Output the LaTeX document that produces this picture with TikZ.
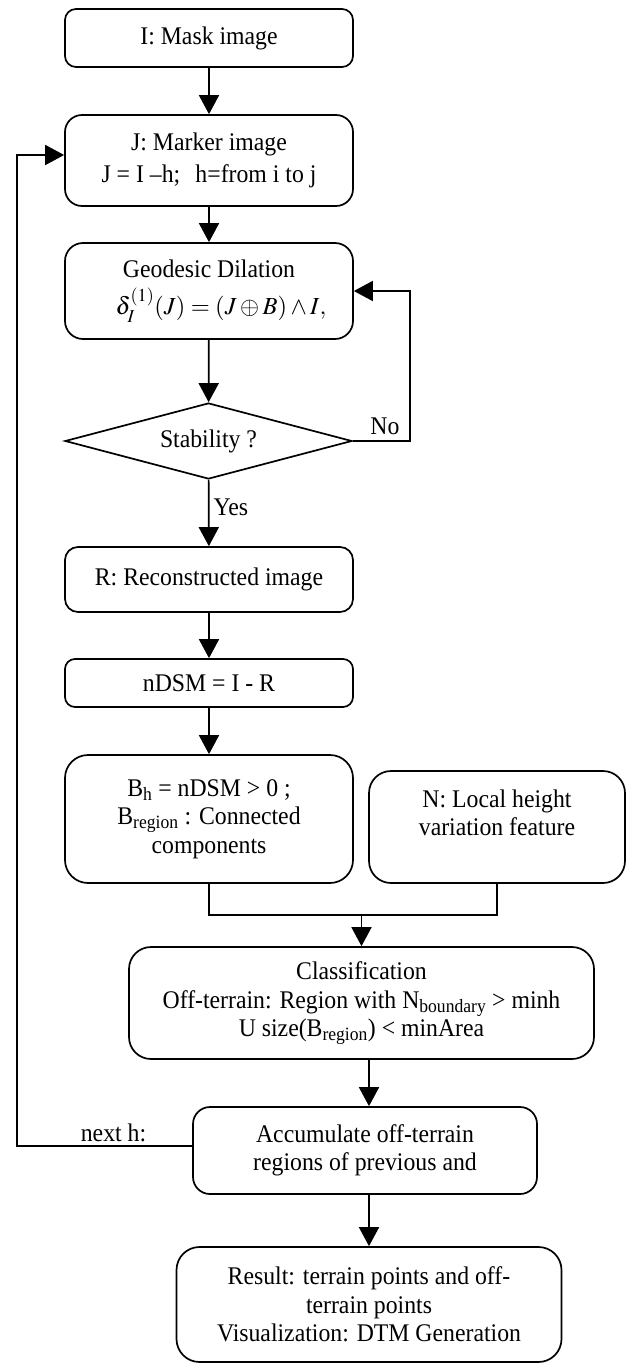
\documentclass[tikz,border=0pt]{standalone}
\usepackage{mathptmx}
\usepackage{fontspec}
\setmainfont{Liberation Serif}[FakeStretch=0.935]
\usetikzlibrary{arrows.meta,shapes.geometric}
\begin{document}
\begin{tikzpicture}[x=1pt,y=-1pt,
  every node/.style={font=\fontsize{25.4}{28.5}\selectfont, inner sep=0pt},
  box/.style={draw, line width=1.7pt, align=center},
  arr/.style={line width=1.7pt, -{Triangle[width=20pt,length=19pt]}},
  ln/.style={line width=1.7pt}]
\useasboundingbox (0,0) rectangle (628,1365);

\node[box, rounded corners=11pt, minimum width=288pt, minimum height=58pt] (I) at (209,38) {I: Mask image};
\node[box, rounded corners=17pt, minimum width=288pt, minimum height=91pt] (J) at (209,160.5)
  {J: Marker image\\[3.5pt] J = I –h;\hspace{0.6em}h=from i to j};
\node[box, rounded corners=18pt, minimum width=288pt, minimum height=96pt] (G) at (209,291)
  {Geodesic Dilation\\[9pt]\hspace{24pt}{\fontsize{24.5}{28.5}\selectfont$\delta_I^{(1)}(J)=(J\oplus B)\wedge I,$}};
\node[draw, line width=1.7pt, diamond, aspect=3.78, minimum width=287pt, minimum height=76pt] (D) at (208.5,441) {Stability ?};
\node[box, rounded corners=13pt, minimum width=288pt, minimum height=65pt] (R) at (209,579.5) {R: Reconstructed image};
\node[box, rounded corners=10pt, minimum width=288pt, minimum height=48pt] (S) at (209,683) {nDSM = I - R};
\node[box, rounded corners=23pt, minimum width=288pt, minimum height=128pt] (B) at (209,819)
  {B\textsubscript{h} = nDSM > 0 ;\\B\textsubscript{region} : Connected\\components};
\node[box, rounded corners=22pt, minimum width=256pt, minimum height=112pt] (N) at (497,827)
  {N: Local height\\variation feature\\\mbox{}};
\node[box, rounded corners=22pt, minimum width=465pt, minimum height=112pt] (C) at (361.5,1003)
  {Classification\\Off-terrain: Region with N\textsubscript{boundary} > minh\\U size(B\textsubscript{region}) < minArea};
\node[box, rounded corners=17pt, minimum width=344pt, minimum height=87pt] (A) at (365,1150.5)
  {Accumulate off-terrain\\regions of previous and};
\node[box, rounded corners=23pt, minimum width=385pt, minimum height=115pt] (Res) at (369,1304.5)
  {Result: terrain points and off-\\terrain points\\Visualization: DTM Generation};

\draw[arr] (I) -- (J);
\draw[arr] (J) -- (G);
\draw[arr] (G) -- (D);
\draw[arr] (D) -- node[pos=0.41, anchor=west, xshift=4pt] (yes) {Yes} (R);
\draw[arr] (R) -- (S);
\draw[arr] (S) -- (B);
\coordinate (m) at (C.north |- 0,915);
\draw[ln] (B.south) |- (m) -| (N.south);
\draw[arr] (m) -- (C.north);
\draw[arr] (C.south -| Res.north) -- (A.north -| Res.north);
\draw[arr] (A.south -| Res.north) -- (Res.north);
\coordinate (nr) at (D.east -| 410,0);
\draw[arr] (D.east) -- (nr) |- (G.east);
\node (no) at (385,426) {No};
\coordinate (lt) at (17,155);
\draw[arr] ([yshift=4.5pt]A.west) -| (lt) -- (lt -| J.west);
\node (nexth) at (113.5,1133) {next h:};
\end{tikzpicture}
\end{document}
